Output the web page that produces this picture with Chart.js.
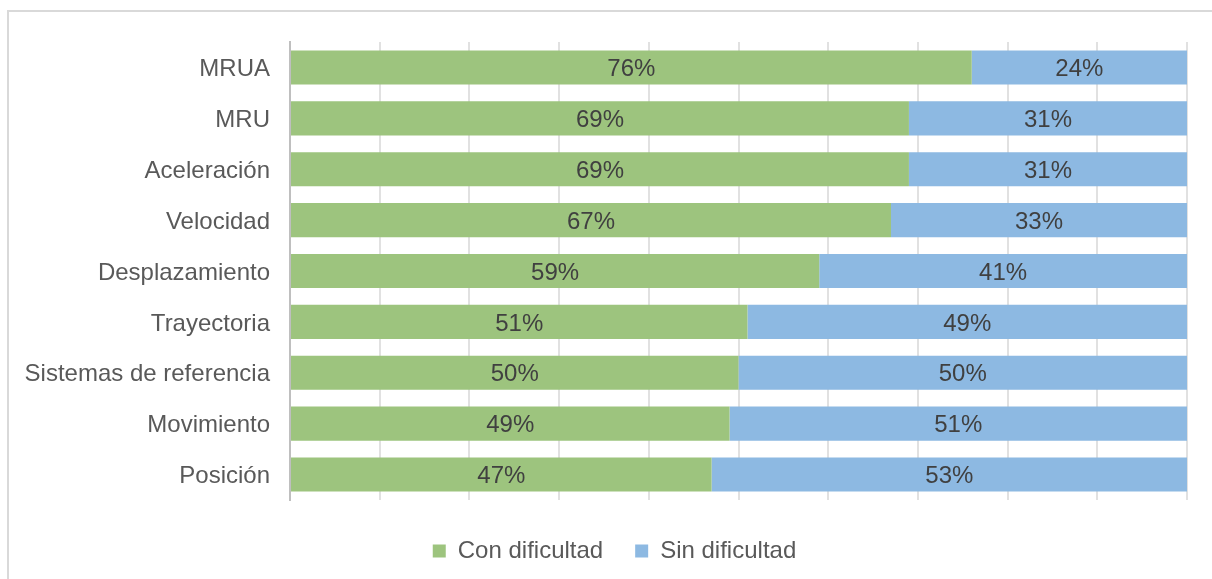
<!DOCTYPE html>
<html>
<head>
<meta charset="utf-8">
<script src="https://cdn.jsdelivr.net/npm/chart.js@4.4.1/dist/chart.umd.min.js"></script>
<style>
	html, body { margin: 0; padding: 0; background: #fff; overflow: hidden; }
	#frame { position: absolute; left: 7px; top: 10px; width: 1230px; height: 600px; border: 2px solid #d9d9d9; }
	#wrap { position: absolute; left: 0; top: 0; width: 1212px; height: 579px; }
</style>
</head>
<body>
<div id="frame"></div>
<div id="wrap"><canvas id="chart"></canvas></div>
<script>
	// categories, top to bottom
	const categories = [ 'MRUA', 'MRU', 'Aceleración', 'Velocidad', 'Desplazamiento', 'Trayectoria', 'Sistemas de referencia', 'Movimiento', 'Posición' ];
	const conDificultad = [ 76, 69, 69, 67, 59, 51, 50, 49, 47 ];
	const sinDificultad = [ 24, 31, 31, 33, 41, 49, 50, 51, 53 ];
	const seriesNames = [ 'Con dificultad', 'Sin dificultad' ];

	const colors = { green: '#9dc47e', blue: '#8db9e2', text: '#595959', label: '#404040' };
	const font = "'Liberation Sans', Arial, sans-serif";

	// draws the % value in the middle of each segment
	const barLabels = {
		id: 'barLabels',
		afterDraw: function ( chart ) {
			const ctx = chart.ctx;
			ctx.save();
			ctx.font = '24px ' + font;
			ctx.fillStyle = colors.label;
			ctx.textAlign = 'center';
			ctx.textBaseline = 'middle';
			chart.data.datasets.forEach( function ( ds, i ) {
				chart.getDatasetMeta( i ).data.forEach( function ( bar, j ) {
					ctx.fillText( ds.data[ j ] + '%', ( bar.x + bar.base ) / 2, bar.y + 2 );
				} );
			} );
			ctx.restore();
		},
	};

	// the legend sits a bit right of the canvas centre in the original
	const legendShift = {
		id: 'legendShift',
		afterLayout: function ( chart ) {
			if ( ! chart.legend ) return;
			chart.legend.left  += 21;
			chart.legend.right += 21;
		},
	};

	new Chart( document.getElementById( 'chart' ), {
		type: 'bar',
		data: {
			labels: categories,
			datasets: [ {
				label: seriesNames[0],
				data: conDificultad,
				backgroundColor: colors.green,
				borderWidth: 0,
				barPercentage: 0.67,
				categoryPercentage: 1,
			}, {
				label: seriesNames[1],
				data: sinDificultad,
				backgroundColor: colors.blue,
				borderWidth: 0,
				barPercentage: 0.67,
				categoryPercentage: 1,
			} ],
		},
		options: {
			indexAxis: 'y',
			responsive: true,
			maintainAspectRatio: false,
			animation: false,
			layout: { padding: { top: 42, right: 25, left: 0, bottom: 6 } },
			plugins: {
				legend: {
					position: 'bottom',
					labels: {
						color: colors.text,
						font: { family: font, size: 24 },
						boxWidth: 13,
						boxHeight: 13,
						padding: 32,
					},
				},
				tooltip: { enabled: false },
			},
			scales: {
				x: {
					stacked: true,
					min: 0,
					max: 100,
					z: 1,
					ticks: { display: false, stepSize: 10 },
					grid: { color: 'rgba(170,170,170,0.35)', lineWidth: 2, drawTicks: false },
					border: { display: false },
					afterFit: function ( scale ) { scale.height = 7; },
				},
				y: {
					stacked: true,
					grid: { display: false, drawTicks: false },
					border: { color: '#bfbfbf', width: 2 },
					ticks: { color: colors.text, font: { family: font, size: 24 }, padding: 20, labelOffset: 2 },
					afterFit: function ( scale ) { scale.width = 290; },
				},
			},
		},
		plugins: [ barLabels, legendShift ],
	} );
</script>
</body>
</html>
